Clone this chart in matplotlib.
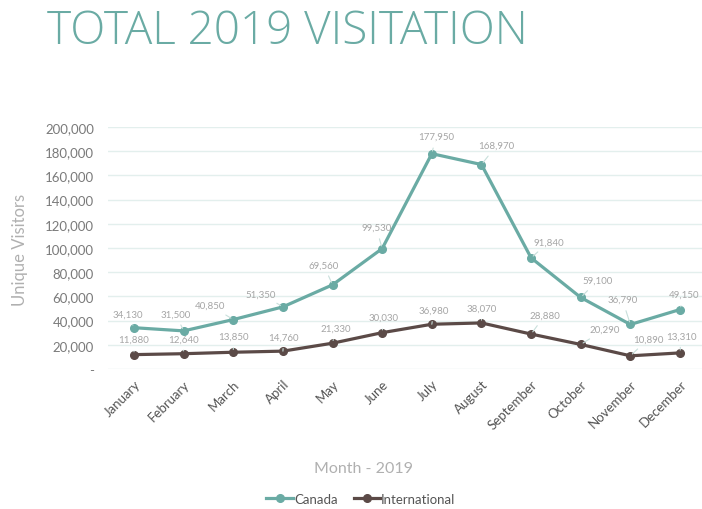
import matplotlib
matplotlib.use("Agg")
import matplotlib.pyplot as plt
from matplotlib.ticker import FuncFormatter

months = ["January", "February", "March", "April", "May", "June", "July",
          "August", "September", "October", "November", "December"]
canada = [34130, 31500, 40850, 51350, 69560, 99530, 177950, 168970,
          91840, 59100, 36790, 49150]
international = [11880, 12640, 13850, 14760, 21330, 30030, 36980, 38070,
                 28880, 20290, 10890, 13310]
yticks = [0, 20000, 40000, 60000, 80000, 100000, 120000, 140000, 160000,
          180000, 200000]

# label offsets in pixels (dx, dy) relative to data point
canada_off = [(-6, 14), (-8, 17), (-23, 14), (-22, 13), (-9, 20), (-6, 21),
              (4, 17), (15, 19), (18, 16), (17, 17), (-8, 25), (4, 15)]
intl_off = [(0, 15), (0, 15), (0, 16), (1, 14), (3, 15), (1, 15),
            (2, 14), (0, 15), (14, 19), (24, 15), (18, 17), (1, 17)]

teal = "#6aaba4"
brown = "#5b4a47"
FONT = ["Lato", "DejaVu Sans"]
plt.rcParams["font.family"] = FONT

fig = plt.figure(figsize=(7.02, 5.10), dpi=100)
ax = fig.add_axes([108/702, (510-370)/510, 594/702, 242/510])

x = list(range(len(months)))
ax.plot(x, canada, color=teal, lw=2.3, marker="o", ms=5.5, label="Canada",
        clip_on=False, zorder=3)
ax.plot(x, international, color=brown, lw=2.3, marker="o", ms=5.5,
        label="International", clip_on=False, zorder=3)

for i, (v, off) in enumerate(zip(canada, canada_off)):
    ax.annotate(f"{v:,}", (i, v), xytext=off, textcoords="offset pixels",
                ha="center", va="center", fontsize=7, color="#a5a5a5",
                arrowprops=dict(arrowstyle="-", color="#c8dfdb", lw=0.8,
                                shrinkA=3, shrinkB=2))
for i, (v, off) in enumerate(zip(international, intl_off)):
    ax.annotate(f"{v:,}", (i, v), xytext=off, textcoords="offset pixels",
                ha="center", va="center", fontsize=7, color="#a5a5a5",
                annotation_clip=False,
                arrowprops=dict(arrowstyle="-", color="#c8dfdb", lw=0.8,
                                shrinkA=3, shrinkB=2))

ax.set_xlim(-0.524, 11.443)
ax.set_ylim(0, 200000)
ax.set_yticks(yticks)
ax.yaxis.set_major_formatter(FuncFormatter(lambda v, p: "-" if v == 0 else f"{int(v):,}"))
ax.grid(axis="y", color="#e3efed", lw=1)
ax.set_axisbelow(True)
for s in ax.spines.values():
    s.set_visible(False)
ax.tick_params(axis="both", length=0)
ax.tick_params(axis="y", labelsize=9.5, labelcolor="#7a7a7a", pad=10)
ax.set_xticks(x)
ax.set_xticklabels(months, rotation=45, ha="right", rotation_mode="anchor",
                   fontsize=9.5, color="#555555")
ax.tick_params(axis="x", pad=6)

fig.text(20/702, 1-250/510, "Unique Visitors", rotation=90, ha="center",
         va="center", fontsize=12, color="#b0b0b0")
fig.text(364/702, 1-469/510, "Month - 2019", ha="center", va="center",
         fontsize=11.5, color="#b0b0b0")
fig.text(47/702, 1-44/510, "TOTAL 2019 VISITATION", ha="left",
         va="baseline", fontsize=33, color=teal,
         family=["Open Sans", "Lato", "DejaVu Sans"], fontweight=300)

leg = fig.legend(loc="center", bbox_to_anchor=(361/702, 1-500/510), ncol=2,
                 frameon=False, fontsize=9.5, handlelength=2.0,
                 handletextpad=0.1, columnspacing=1.2)
for t in leg.get_texts():
    t.set_color("#555555")

fig.savefig("out.png", dpi=100)
